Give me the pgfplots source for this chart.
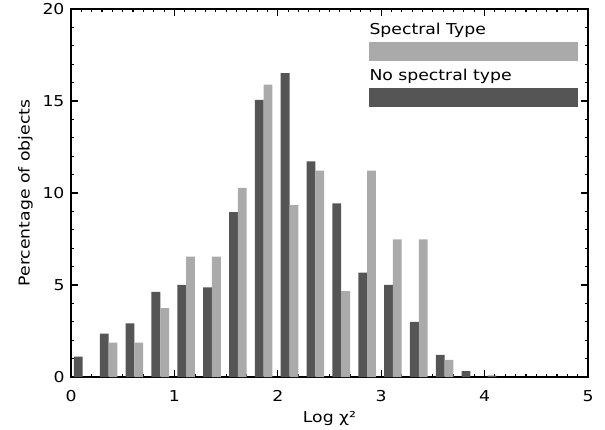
\documentclass[border=0pt]{standalone}
\usepackage{pgfplots}
\pgfplotsset{compat=1.18}
\usepackage{fontspec}
\setmainfont{DejaVu Sans}[FakeStretch=1.15]
\newcommand\mysize{\fontsize{15bp}{18bp}\selectfont}
\definecolor{darkbar}{RGB}{85,85,85}
\definecolor{lightbar}{RGB}{170,170,170}
\begin{document}
\begin{tikzpicture}
\begin{axis}[
  scale only axis,
  width=517bp, height=368bp,
  xmin=0, xmax=5, ymin=0, ymax=20,
  enlargelimits=false,
  xtick={0,1,2,3,4,5},
  ytick={0,5,10,15,20},
  minor x tick num=9,
  minor y tick num=4,
  tick align=inside,
  xtick pos=both, ytick pos=both,
  major tick length=7bp,
  minor tick length=3.5bp,
  axis line style={line width=1.6bp},
  every tick/.style={black, line width=1.1bp},
  /pgf/number format/assume math mode=true,
  tick label style={font=\mysize},
  label style={font=\mysize},
  xticklabel style={yshift=-10bp},
  yticklabel style={xshift=-3bp},
  xlabel={Log χ²},
  ylabel={Percentage of objects},
  xlabel style={yshift=-3bp},
  ylabel style={yshift=3bp},
]
% No spectral type (dark)
\addplot[ybar, bar width=0.085, bar shift=0pt, fill=darkbar, draw=none] coordinates {
(0.071,1.11) (0.321,2.36) (0.571,2.91) (0.821,4.63) (1.071,5.01) (1.321,4.87)
(1.571,8.96) (1.821,15.06) (2.071,16.51) (2.321,11.72) (2.571,9.43) (2.821,5.67)
(3.071,5.01) (3.321,3.00) (3.571,1.20) (3.821,0.32) (4.071,0.07)
};
% Spectral type (light)
\addplot[ybar, bar width=0.085, bar shift=0pt, fill=lightbar, draw=none] coordinates {
(0.156,0) (0.406,1.869) (0.656,1.869) (0.906,3.738) (1.156,6.542) (1.406,6.542)
(1.656,10.28) (1.906,15.89) (2.156,9.346) (2.406,11.21) (2.656,4.673) (2.906,11.21)
(3.156,7.477) (3.406,7.477) (3.656,0.935)
};
% legend
\node[anchor=base west, inner sep=0, font=\mysize] at (axis cs:2.885,18.6) {Spectral Type};
\fill[lightbar] (axis cs:2.885,17.17) rectangle (axis cs:4.908,18.2);
\node[anchor=base west, inner sep=0, font=\mysize] at (axis cs:2.885,16.09) {No spectral type};
\fill[darkbar] (axis cs:2.885,14.66) rectangle (axis cs:4.908,15.69);
\end{axis}
\pgfresetboundingbox
\path ([shift={(-71bp,-53bp)}]current axis.south west) rectangle ([shift={(17bp,9bp)}]current axis.north east);
\end{tikzpicture}
\end{document}
